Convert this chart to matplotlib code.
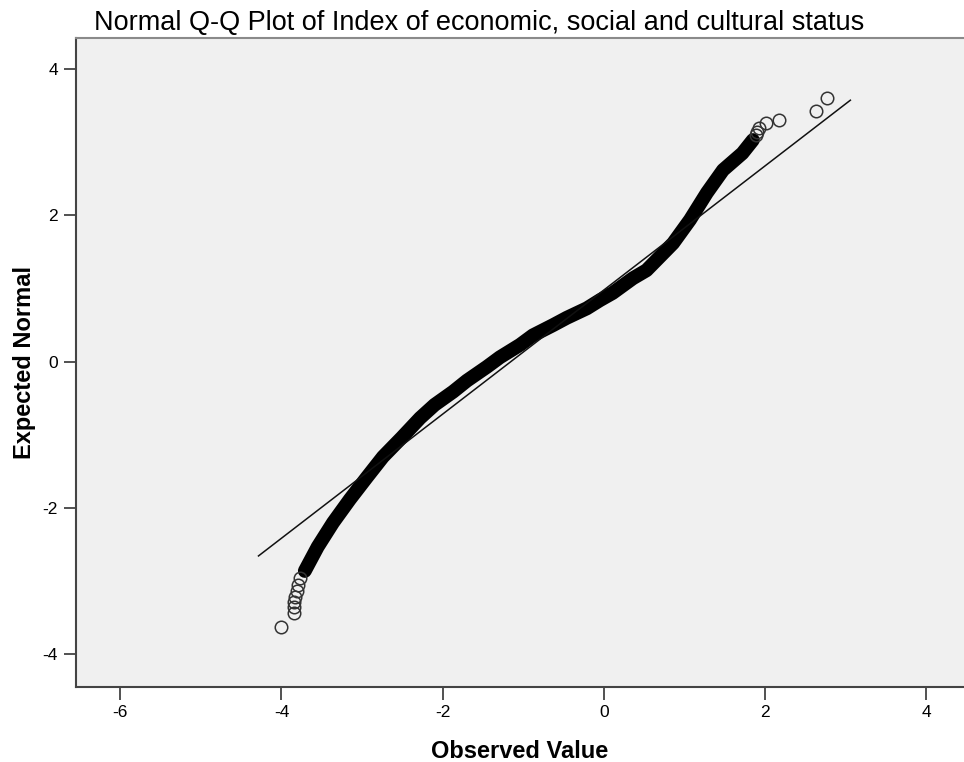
import matplotlib.pyplot as plt
import numpy as np

plt.rcParams['font.family'] = ['Liberation Sans', 'DejaVu Sans']
plt.rcParams['axes.unicode_minus'] = False

# lower tail, plotted as separate circles
low_obs = [-4.00, -3.85, -3.85, -3.84, -3.83, -3.81, -3.79, -3.77]
low_exp = [-3.62, -3.44, -3.35, -3.28, -3.21, -3.14, -3.05, -2.96]

# body of the distribution (points so dense they merge into a band)
body_obs = [-3.71, -3.55, -3.36, -3.15, -2.94, -2.74, -2.51, -2.28, -2.10, -1.87,
            -1.70, -1.45, -1.29, -1.04, -0.88, -0.63, -0.46, -0.21, -0.05, 0.11,
            0.36, 0.53, 0.78, 0.86, 1.07, 1.28, 1.48, 1.72, 1.85]
body_exp = [-2.86, -2.53, -2.20, -1.88, -1.58, -1.30, -1.04, -0.77, -0.59, -0.41,
            -0.26, -0.07, 0.06, 0.23, 0.36, 0.50, 0.60, 0.73, 0.84, 0.94,
            1.14, 1.25, 1.53, 1.62, 1.94, 2.31, 2.62, 2.85, 3.03]

# upper tail
high_obs = [1.89, 1.90, 1.93, 2.01, 2.18, 2.63, 2.77]
high_exp = [3.10, 3.14, 3.19, 3.26, 3.31, 3.43, 3.60]

# reference line end points
ref_obs = [-4.285, 3.06]
ref_exp = [-2.655, 3.575]

fig = plt.figure(figsize=(9.64, 7.62), dpi=100)
ax = fig.add_axes([0.0788, 0.0984, 0.9212, 0.8517])
ax.set_facecolor('#f0f0f0')

ax.plot(body_obs, body_exp, color='black', lw=10, solid_capstyle='round',
        solid_joinstyle='round', zorder=2)
ax.plot(low_obs, low_exp, ls='none', marker='o', ms=9, mfc='none', mec='#333333', mew=1.1, zorder=2)
ax.plot(high_obs, high_exp, ls='none', marker='o', ms=9, mfc='none', mec='#333333', mew=1.1, zorder=2)
ax.plot(ref_obs, ref_exp, color='#111111', lw=1.1, zorder=3)

ax.set_xlim(-6.55, 4.47)
ax.set_ylim(-4.447, 4.425)
ax.set_xticks([-6, -4, -2, 0, 2, 4])
ax.set_yticks([-4, -2, 0, 2, 4])
ax.tick_params(direction='out', length=9, width=1.2, color='#333333', labelsize=12.5, pad=4)

ax.spines['right'].set_visible(False)
ax.spines['top'].set_color('#8a8a8a')
ax.spines['left'].set_color('#444444')
ax.spines['bottom'].set_color('#444444')
for s in ['top', 'left', 'bottom']:
    ax.spines[s].set_linewidth(1.5)

ax.set_title('Normal Q-Q Plot of Index of economic, social and cultural status',
             fontsize=19.5, pad=6, x=0.4544)
ax.set_xlabel('Observed Value', fontsize=17, fontweight='bold', labelpad=14)
ax.set_ylabel('Expected Normal', fontsize=17, fontweight='bold', labelpad=5)

fig.savefig('out.png', dpi=100)
